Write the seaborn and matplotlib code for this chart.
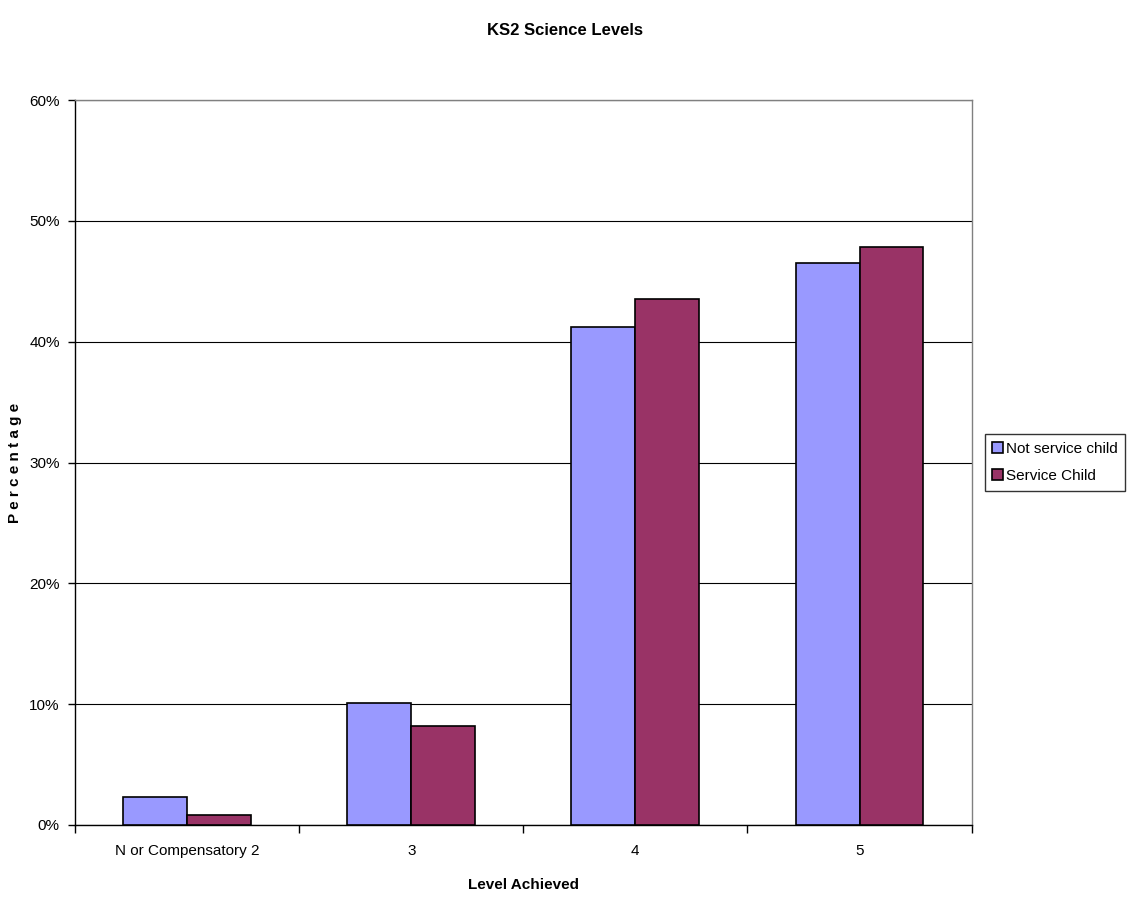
import pandas as pd
import matplotlib
matplotlib.use("Agg")
import matplotlib.pyplot as plt
import seaborn as sns
from matplotlib.ticker import FuncFormatter, FixedLocator

# data
levels = ["N or Compensatory 2", "3", "4", "5"]
not_service = [2.3, 10.1, 41.2, 46.5]
service = [0.8, 8.2, 43.5, 47.8]

df = pd.DataFrame({
    "Level": levels * 2,
    "Percentage": not_service + service,
    "Group": ["Not service child"] * 4 + ["Service Child"] * 4,
})

sns.set_style("white")
plt.rcParams["font.family"] = ["Liberation Sans", "DejaVu Sans"]
plt.rcParams["text.color"] = "black"
plt.rcParams["axes.labelcolor"] = "black"
plt.rcParams["xtick.color"] = "black"
plt.rcParams["ytick.color"] = "black"

fig = plt.figure(figsize=(11.3, 9.05), dpi=100)
ax = fig.add_axes([0.0664, 0.0884, 0.7934, 0.8011])

sns.barplot(data=df, x="Level", y="Percentage", hue="Group",
            palette=["#9999FF", "#993366"], width=0.57,
            edgecolor="black", linewidth=1.2, saturation=1, ax=ax, zorder=3)

ax.set_ylim(0, 60)
ax.set_xlim(-0.5, 3.5)
ax.set_yticks(range(0, 61, 10))
ax.yaxis.set_major_formatter(FuncFormatter(lambda v, p: f"{int(v)}%"))
ax.grid(axis="y", color="black", linewidth=0.8, zorder=0)
ax.set_axisbelow(True)

# ticks at category boundaries, labels centred
ax.xaxis.set_major_locator(FixedLocator([0, 1, 2, 3]))
ax.xaxis.set_minor_locator(FixedLocator([-0.5, 0.5, 1.5, 2.5, 3.5]))
ax.tick_params(axis="x", which="major", length=0, pad=14, labelsize=11)
ax.tick_params(axis="x", which="minor", bottom=True, length=6, width=1,
               direction="out", color="black")
ax.tick_params(axis="y", length=5, width=1, direction="out", color="black",
               labelsize=11, left=True, pad=6)

for s in ["left", "bottom"]:
    ax.spines[s].set_color("black")
    ax.spines[s].set_linewidth(1.0)
for s in ["top", "right"]:
    ax.spines[s].set_color("#808080")
    ax.spines[s].set_linewidth(1.0)
    ax.spines[s].set_visible(True)

ax.set_xlabel("Level Achieved", fontsize=11, fontweight="bold", labelpad=14)
ax.set_ylabel("P e r c e n t a g e", fontsize=11, fontweight="bold")
ax.yaxis.set_label_coords(-0.059, 0.5)
fig.suptitle("KS2 Science Levels", fontsize=12, fontweight="bold", y=0.975)

leg = ax.legend(loc="center left", bbox_to_anchor=(1.0145, 0.5), frameon=True,
                fancybox=False, edgecolor="black", fontsize=11,
                handlelength=0.7, handleheight=0.7, handletextpad=0.2,
                borderpad=0.5, labelspacing=0.85, borderaxespad=0)
leg.get_frame().set_linewidth(1.0)

fig.savefig("out.png", dpi=100)
